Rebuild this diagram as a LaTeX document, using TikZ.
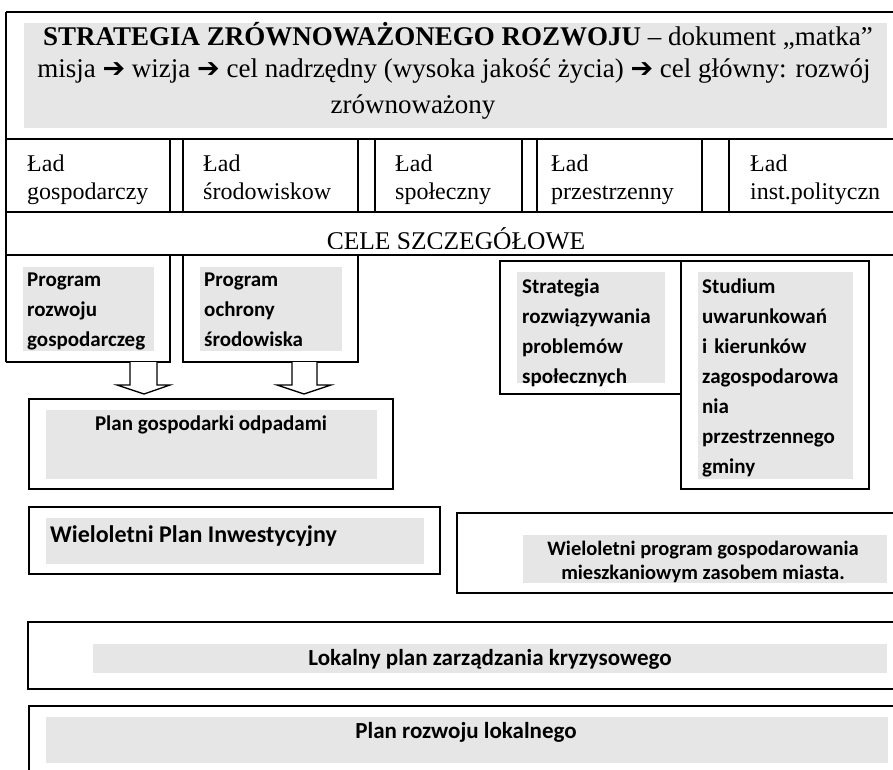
\documentclass[tikz,border=0pt]{standalone}
\usepackage{fontspec}
\setmainfont{Liberation Serif}
\newfontfamily\calibri{Carlito}
\newfontfamily\dingfont{DejaVu Sans}
\definecolor{panel}{RGB}{230,230,230}
\newcommand\harrow{\raisebox{-0.5pt}{\dingfont\fontsize{27}{27}\selectfont\char"2794}}

\begin{document}
\begin{tikzpicture}[x=1pt,y=-1pt,
  frame/.style={draw=black, line width=1.6pt},
  thin frame/.style={draw=black, line width=1.3pt},
  blockarrow/.style={draw=black, line width=1.3pt, fill=white, line join=miter},
  shade/.style={fill=panel},
  serif/.style={inner sep=0pt, font=\fontsize{27}{30}\selectfont},
  ladtext/.style={inner sep=0pt, text width=150pt, align=left, anchor=base west,
    font=\fontsize{24}{28}\selectfont},
  boldcal/.style={inner sep=0pt, font=\calibri\bfseries\fontsize{21}{30}\selectfont},
  stack/.style={boldcal, text width=170pt, align=left, anchor=base west}]

\useasboundingbox (0,0) rectangle (893,769);
\clip (0,0) rectangle (893,769);

% grey panels behind the texts
\fill[shade] (24,23) rectangle (887,128);
\fill[shade] (23,267) rectangle (154,351);
\fill[shade] (200,267) rectangle (342,351);
\fill[shade] (517,272) rectangle (665,383);
\fill[shade] (698,272) rectangle (853,479);
\fill[shade] (46,410) rectangle (377,479);
\fill[shade] (46,518) rectangle (424,564);
\fill[shade] (523,535) rectangle (887,583);
\fill[shade] (93,644) rectangle (887,673);
\fill[shade] (46,717) rectangle (888,763);

% strategy header, the row of "lady" and the row of detailed goals
\draw[frame] (6,12) -- (900,12);
\draw[frame] (6,139) -- (900,139);
\draw[thin frame] (6,212) -- (900,212);
\draw[thin frame] (6,255) -- (900,255);
\draw[frame] (6,12) -- (6,362);
\foreach \x in {170,183,358,375,522,537,702,729}
  \draw[thin frame] (\x,139) -- (\x,212);

% program boxes hanging from the goals row
\draw[thin frame] (6,362) -- (170,362) -- (170,255);
\draw[thin frame] (183,255) -- (183,362) -- (358,362) -- (358,255);

% open block arrows down to the waste plan
\draw[blockarrow] (130,362) -- (130,385) -- (117,385) -- (144,394) -- (170,385) -- (157,385) -- (157,362);
\draw[blockarrow] (292,362) -- (292,385) -- (277,385) -- (304,394) -- (331,385) -- (317,385) -- (317,362);

% remaining document boxes
\draw[thin frame] (500,261) rectangle (681,394);
\draw[thin frame] (681,261) rectangle (869,489);
\draw[thin frame] (29,399) rectangle (393,489);
\draw[thin frame] (29,507) rectangle (440,574);
\draw[thin frame] (457,513) rectangle (900,593);
\draw[thin frame] (28,622) rectangle (900,689);
\draw[thin frame] (29,706) rectangle (900,790);

% header text
\node[serif, anchor=base] (title1) at (458,45)
  {\textbf{STRATEGIA ZRÓWNOWAŻONEGO ROZWOJU} – dokument „matka”};
\node[serif, anchor=base] (title2) at (454,77)
  {misja \harrow{} wizja \harrow{} cel nadrzędny (wysoka jakość życia) \harrow{} cel główny: rozwój};
\node[serif, anchor=base] (title3) at (413,113) {zrównoważony};

% the five "lady"
\node[ladtext] (lad1) at (27,171) {Ład\\gospodarczy};
\node[ladtext] (lad2) at (203,171) {Ład\\środowiskow};
\node[ladtext] (lad3) at (395,171) {Ład\\społeczny};
\node[ladtext] (lad4) at (551,171) {Ład\\przestrzenny};
\node[ladtext] (lad5) at (750,171) {Ład\\inst.polityczn};

% detailed goals label, cut at its foot
\begin{scope}
  \clip (6,212) rectangle (900,248);
  \node[inner sep=0pt, anchor=base, font=\fontsize{25.5}{30}\selectfont] (goals) at (456,249)
    {CELE SZCZEGÓŁOWE};
\end{scope}

% programme and plan texts
\node[stack] (prog1) at (27,286) {Program\\rozwoju\\gospodarczeg};
\node[stack] (prog2) at (204,286) {Program\\ochrony\\środowiska};
\node[stack] (strat) at (522,293) {Strategia\\rozwiązywania\\problemów\\społecznych};
\node[stack] (stud) at (702,293) {Studium\\uwarunkowań\\i kierunków\\zagospodarowa\\nia\\przestrzennego\\gminy};
\node[boldcal, anchor=base] (waste) at (211,430) {Plan gospodarki odpadami};
\node[boldcal, anchor=base west, font=\calibri\bfseries\fontsize{24}{30}\selectfont] (wpi) at (50,542)
  {Wieloletni Plan Inwestycyjny};
\node[boldcal, anchor=base, font=\calibri\bfseries\fontsize{20.5}{24}\selectfont] (wpg1) at (703,555)
  {Wieloletni program gospodarowania};
\node[boldcal, anchor=base, font=\calibri\bfseries\fontsize{20.5}{24}\selectfont] (wpg2) at (703,579)
  {mieszkaniowym zasobem miasta.};
\node[boldcal, anchor=base, font=\calibri\bfseries\fontsize{23}{30}\selectfont] (crisis) at (490,665)
  {Lokalny plan zarządzania kryzysowego};
\node[boldcal, anchor=base, font=\calibri\bfseries\fontsize{23}{30}\selectfont] (local) at (466,738)
  {Plan rozwoju lokalnego};
\end{tikzpicture}
\end{document}
